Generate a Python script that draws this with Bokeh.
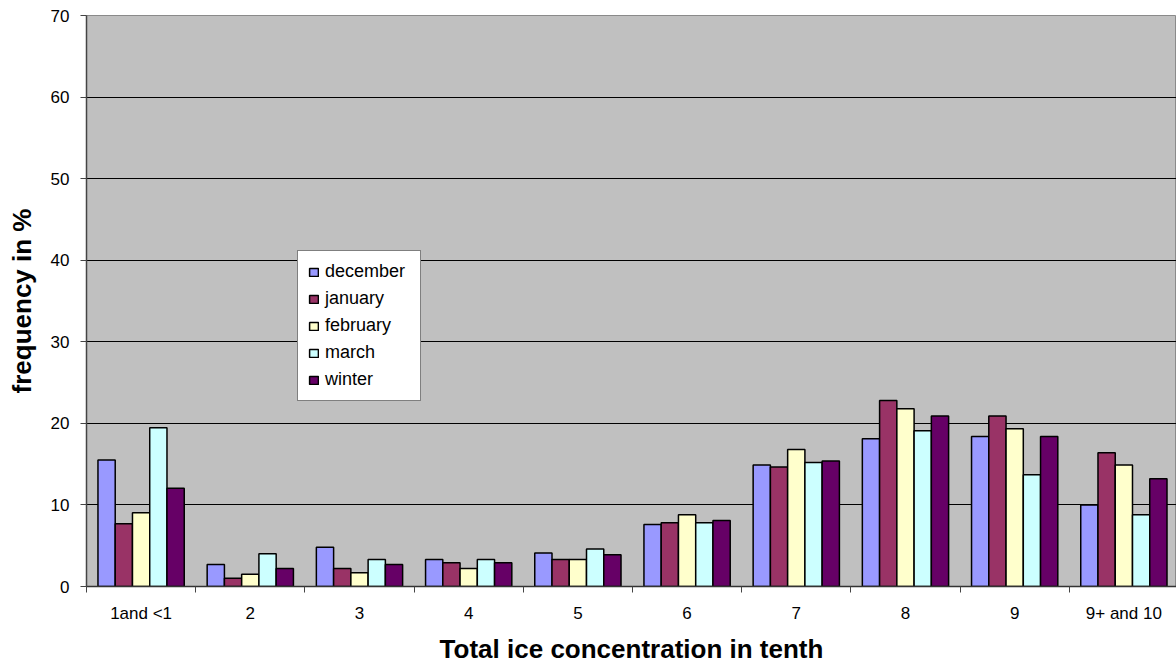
from bokeh.plotting import figure
from bokeh.models import (ColumnDataSource, Range1d, FixedTicker, Legend, LegendItem)
from bokeh.embed import file_html
from bokeh.resources import INLINE

# Frequency (%) of total ice concentration classes, by month and for the whole winter
categories = ["1and <1", "2", "3", "4", "5", "6", "7", "8", "9", "9+ and 10"]
december = [15.5, 2.7, 4.8, 3.3, 4.1, 7.6, 14.9, 18.1, 18.4, 10.0]
january = [7.7, 1.0, 2.2, 2.9, 3.3, 7.8, 14.65, 22.8, 20.9, 16.4]
february = [9.05, 1.5, 1.7, 2.2, 3.3, 8.8, 16.8, 21.8, 19.35, 14.9]
march = [19.45, 4.0, 3.3, 3.3, 4.6, 7.8, 15.2, 19.1, 13.7, 8.8]
winter = [12.05, 2.2, 2.7, 2.9, 3.9, 8.1, 15.4, 20.9, 18.4, 13.2]

series_names = ["december", "january", "february", "march", "winter"]
series_values = [december, january, february, march, winter]
series_colors = ["#9999FF", "#993366", "#FFFFCC", "#CCFFFF", "#660066"]
y_ticks = [0, 10, 20, 30, 40, 50, 60, 70]

FONT = "Liberation Sans"
bar_w = 0.158
n = len(categories)
centers = [i + 0.5 for i in range(n)]

p = figure(width=1176, height=667, output_backend="svg", toolbar_location=None,
           x_range=Range1d(0, 9.982), y_range=Range1d(0, 70),
           min_border_left=86, min_border_right=0, min_border_top=15,
           min_border_bottom=81)

p.background_fill_color = "#C0C0C0"
p.border_fill_color = "white"
p.outline_line_color = "#8a8a8a"
p.outline_line_width = 1

items = []
for k, (name, vals, col) in enumerate(zip(series_names, series_values, series_colors)):
    xs = [c + (k - 2) * bar_w for c in centers]
    src = ColumnDataSource(dict(x=xs, top=vals))
    r = p.vbar(x="x", top="top", bottom=0, width=bar_w, source=src,
               fill_color=col, line_color="black", line_width=1.5)
    items.append(LegendItem(label=name, renderers=[r]))

# grid
p.xgrid.visible = False
p.ygrid.ticker = FixedTicker(ticks=y_ticks)
p.ygrid.grid_line_color = "black"
p.ygrid.grid_line_width = 1

# y axis
ya = p.yaxis[0]
ya.ticker = FixedTicker(ticks=y_ticks)
ya.axis_line_color = "#444444"
ya.axis_line_width = 1.5
ya.major_tick_line_color = "#444444"
ya.major_tick_out = 6
ya.major_tick_in = 0
ya.minor_tick_line_color = None
ya.major_label_standoff = 11
ya.major_label_text_font = FONT
ya.major_label_text_font_size = "17px"
ya.major_label_text_color = "black"
ya.axis_label = "frequency in %"
ya.axis_label_text_font = FONT
ya.axis_label_text_font_size = "26px"
ya.axis_label_text_font_style = "bold"
ya.axis_label_text_color = "black"
ya.axis_label_standoff = 11

# x axis: labels at category centres, ticks at category boundaries
xa = p.xaxis[0]
xa.ticker = FixedTicker(ticks=centers, minor_ticks=list(range(n + 1)))
xa.major_label_overrides = {c: lab for c, lab in zip(centers, categories)}
xa.axis_line_color = "#333333"
xa.axis_line_width = 1.5
xa.major_tick_out = 0
xa.major_tick_in = 0
xa.minor_tick_out = 6
xa.minor_tick_in = 0
xa.minor_tick_line_color = "#444444"
xa.major_label_standoff = 11
xa.major_label_text_font = FONT
xa.major_label_text_font_size = "17px"
xa.major_label_text_color = "black"
xa.axis_label = "Total ice concentration in tenth"
xa.axis_label_text_font = FONT
xa.axis_label_text_font_size = "26px"
xa.axis_label_text_font_style = "bold"
xa.axis_label_text_color = "black"
xa.axis_label_standoff = 8

legend = Legend(items=items, location=(211, 185), orientation="vertical",
                background_fill_color="white", background_fill_alpha=1.0,
                border_line_color="black", border_line_width=1,
                label_text_font=FONT, label_text_font_size="18px",
                label_text_color="black",
                glyph_width=11, glyph_height=10, label_standoff=6,
                label_width=85, label_height=20, spacing=6,
                padding=10, margin=0)
p.add_layout(legend, "center")

open("out.html", "w").write(file_html(p, INLINE))
